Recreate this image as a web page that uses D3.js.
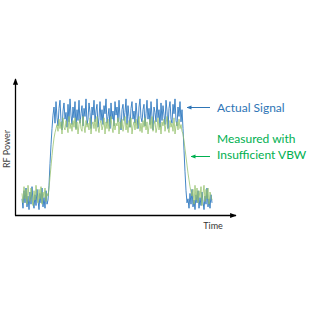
<!DOCTYPE html>
<html><head><meta charset="utf-8">
<script src="https://cdn.jsdelivr.net/npm/d3@7"></script>
<style>html,body{margin:0;padding:0;background:#fff;}</style>
</head><body>
<script>
// Actual signal (blue), one value per time step
const actualSignal = [
  12,5,18,9,20,6,14,4,17,8,21,10,5,15,7,19,11,4,16,9,20,6,13,5,18,8,11,
  22,38,52,64,74,
  80,68,84,72,66,79,85,70,63,77,
  83,71,76,65,82,69,86,74,67,80,
  72,84,64,78,70,85,68,75,81,66,
  79,73,86,67,71,83,76,64,80,74,
  85,69,77,82,65,72,84,70,78,67,
  81,75,86,68,73,79,64,83,71,77,
  66,84,74,80,69,85,72,63,78,82,
  70,76,86,67,81,73,65,79,84,71,
  77,68,83,74,64,80,86,72,69,78,
  82,66,75,85,71,79,67,84,73,63,
  80,76,69,86,72,78,65,83,70,81,
  74,67,85,77,64,79,84,71,68,82,
  75,86,70,66,80,73,84,69,78,
  64,48,32,18,9,
  12,5,16,8,19,6,11,4,15,9,18,5,13,7,17,10,4,14,8,20,6,12,5,15,9
];
// Measured with insufficient VBW (green)
const measuredSignal = [
  16,9,21,12,19,8,22,14,10,20,13,7,18,11,22,15,9,19,12,21,8,17,13,20,10,16,14,
  20,28,36,44,51,57,61,64,
  67,62,71,64,69,60,72,65,63,70,
  66,61,73,64,68,62,70,65,72,63,
  69,60,67,71,64,62,73,66,61,70,
  65,68,63,72,60,67,69,64,71,62,
  73,65,61,68,70,63,66,72,60,69,
  64,71,62,67,73,65,61,70,63,68,
  66,72,60,69,64,71,62,67,73,63,
  68,61,70,65,72,60,66,69,63,71,
  64,67,73,62,68,61,70,65,72,63,
  69,60,66,71,64,73,62,67,70,61,
  65,72,63,68,60,69,66,71,62,67,
  73,64,61,70,65,68,62,72,60,66,
  69,63,71,64,67,62,
  60,55,49,43,37,31,26,21,17,14,
  19,8,22,11,20,9,18,13,21,7,16,22,10,19,12,20,8,17,14,11
];
const labels = ["Actual Signal", "Measured with", "Insufficient VBW"];
const axisLabels = ["RF Power", "Time"];

const W = 310, H = 310;
const svg = d3.select("body").append("svg").attr("width", W).attr("height", H);
const defs = svg.append("defs");
function marker(id, color, size) {
  defs.append("marker").attr("id", id).attr("viewBox", "0 0 10 10")
    .attr("refX", 9).attr("refY", 5).attr("markerWidth", size).attr("markerHeight", size)
    .attr("orient", "auto-start-reverse")
    .append("path").attr("d", "M0,1 L10,5 L0,9 Z").attr("fill", color);
}
marker("axArrow", "#000", 5);
marker("blueArrow", "#2E75B6", 5);
marker("greenArrow", "#00B050", 5);

const x = d3.scaleLinear().domain([0, actualSignal.length - 1]).range([22, 212]);
const y = d3.scaleLinear().domain([0, 100]).range([215, 80]);

// axes
svg.append("line").attr("x1", 15.5).attr("y1", 215.5).attr("x2", 15.5).attr("y2", 79)
  .attr("stroke", "#000").attr("stroke-width", 1.3).attr("marker-end", "url(#axArrow)");
svg.append("line").attr("x1", 15).attr("y1", 215.5).attr("x2", 236).attr("y2", 215.5)
  .attr("stroke", "#000").attr("stroke-width", 1.3).attr("marker-end", "url(#axArrow)");

const line = d3.line().x((d, i) => x(i)).y(d => y(d));
svg.append("path").datum(actualSignal).attr("d", line)
  .attr("fill", "none").attr("stroke", "#2E78C0").attr("stroke-width", 0.9);
svg.append("path").datum(measuredSignal).attr("d", line)
  .attr("fill", "none").attr("stroke", "#93C06A").attr("stroke-width", 0.9).attr("opacity", 0.85);

// label arrows
svg.append("line").attr("x1", 210).attr("x2", 187).attr("y1", 107.5).attr("y2", 107.5)
  .attr("stroke", "#2E75B6").attr("stroke-width", 1).attr("marker-end", "url(#blueArrow)");
svg.append("line").attr("x1", 210).attr("x2", 191).attr("y1", 156.5).attr("y2", 156.5)
  .attr("stroke", "#00B050").attr("stroke-width", 1).attr("marker-end", "url(#greenArrow)");

const font = "Lato, 'Open Sans', sans-serif";
svg.append("text").attr("x", 217).attr("y", 112).text(labels[0])
  .attr("fill", "#2E75B6").style("font-family", font).style("font-size", "12px");
svg.append("text").attr("x", 217).attr("y", 143).text(labels[1])
  .attr("fill", "#00B050").style("font-family", font).style("font-size", "12px");
svg.append("text").attr("x", 217).attr("y", 159).text(labels[2])
  .attr("fill", "#00B050").style("font-family", font).style("font-size", "12px");

svg.append("text").attr("transform", "translate(10,149) rotate(-90)")
  .attr("text-anchor", "middle").text(axisLabels[0])
  .attr("fill", "#444").style("font-family", font).style("font-size", "9px");
svg.append("text").attr("x", 213).attr("y", 229).attr("text-anchor", "middle").text(axisLabels[1])
  .attr("fill", "#333").style("font-family", font).style("font-size", "9px");
</script>
</body></html>
